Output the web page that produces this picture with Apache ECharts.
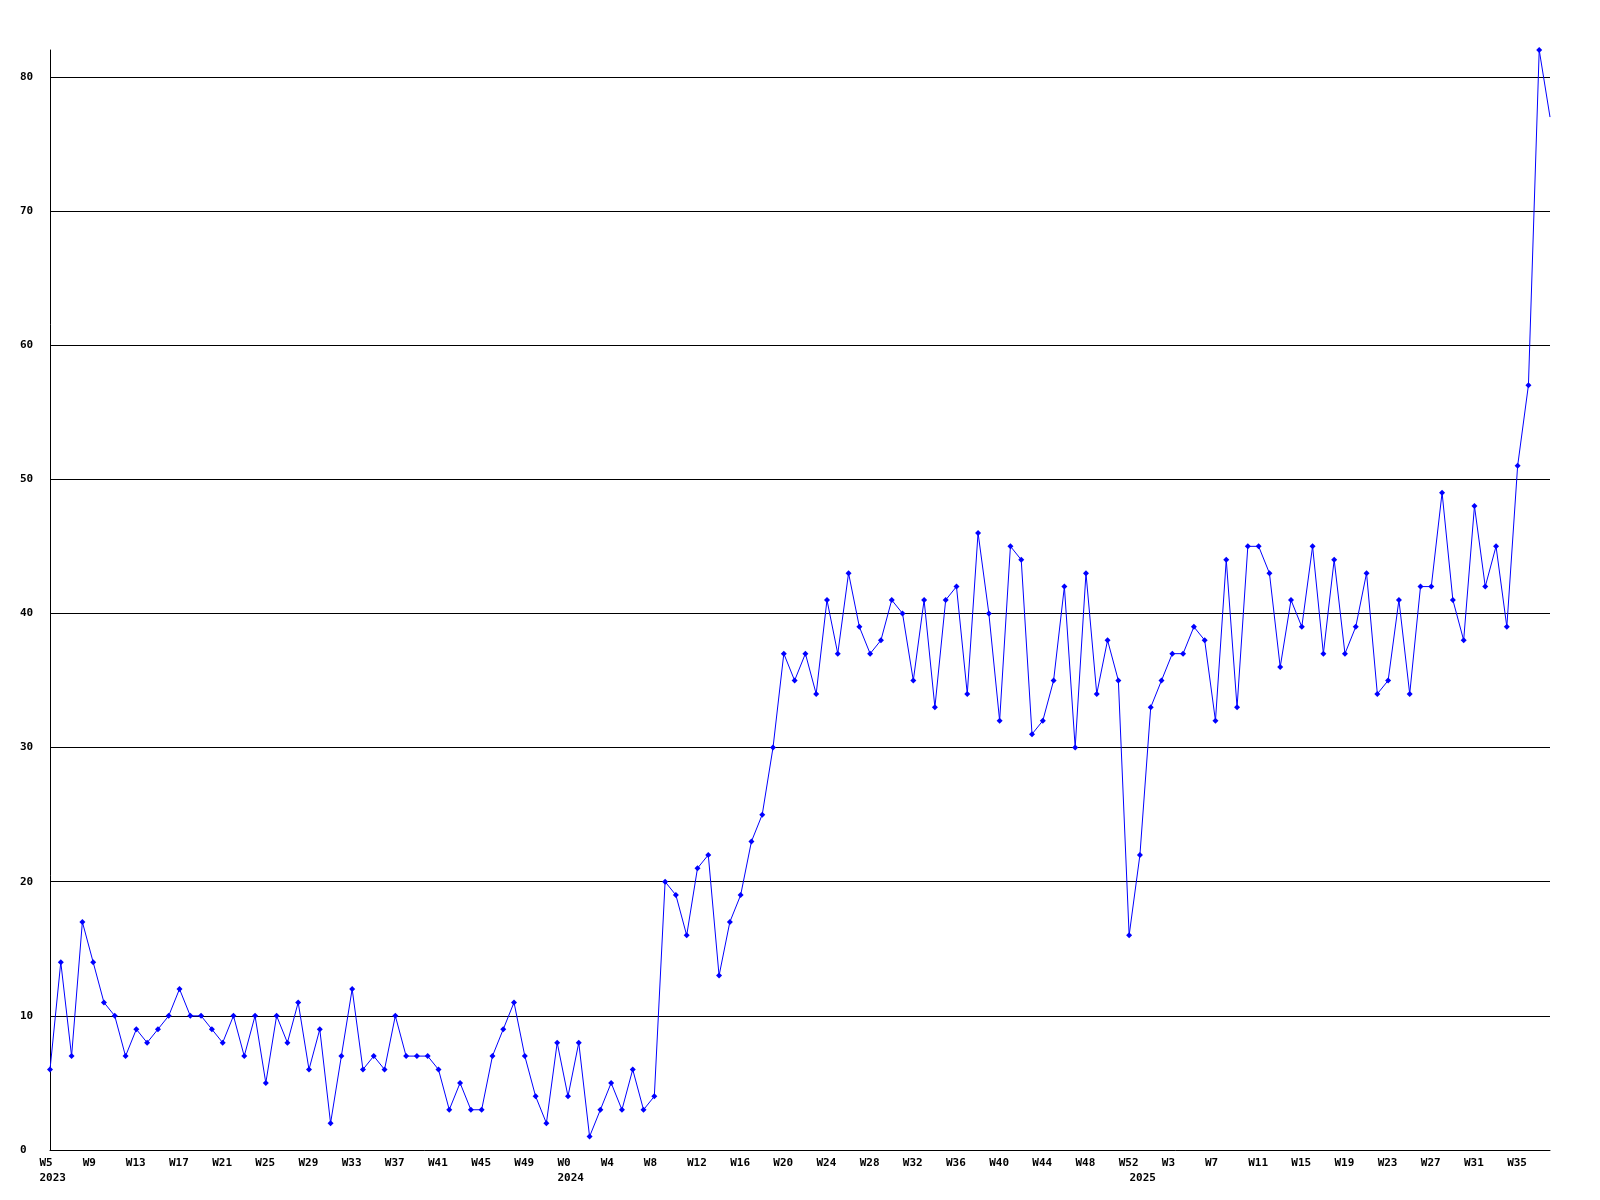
<!DOCTYPE html>
<html>
<head>
<meta charset="utf-8">
<script src="https://cdn.jsdelivr.net/npm/echarts@6/dist/echarts.min.js"></script>
<style>
  html, body { margin: 0; padding: 0; background: #ffffff; }
  #chart { width: 1600px; height: 1200px; }
</style>
</head>
<body>
<div id="chart"></div>
<script>
// Week spans shown on the x axis: [year, first week, last week]
const yearSpans = [
  [2023, 5, 52],
  [2024, 0, 52],
  [2025, 0, 38]
];

// Weekly values (one per week, from W5 2023)
const values2023 = [6, 14, 7, 17, 14, 11, 10, 7, 9, 8, 9, 10, 12, 10, 10, 9, 8, 10, 7, 10,
  5, 10, 8, 11, 6, 9, 2, 7, 12, 6, 7, 6, 10, 7, 7, 7, 6, 3, 5, 3,
  3, 7, 9, 11, 7, 4, 2, 8];
const values2024 = [4, 8, 1, 3, 5, 3, 6, 3, 4, 20, 19, 16, 21, 22, 13, 17, 19, 23, 25, 30,
  37, 35, 37, 34, 41, 37, 43, 39, 37, 38, 41, 40, 35, 41, 33, 41, 42, 34, 46, 40,
  32, 45, 44, 31, 32, 35, 42, 30, 43, 34, 38, 35, 16];
const values2025 = [22, 33, 35, 37, 37, 39, 38, 32, 44, 33, 45, 45, 43, 36, 41, 39, 45, 37, 44, 37,
  39, 43, 34, 35, 41, 34, 42, 42, 49, 41, 38, 48, 42, 45, 39, 51, 57, 82, 77];

// Y axis ticks
const yMin = 0;
const yMax = 82;
const yStep = 10;
// Week-label step on the x axis
const weekLabelStep = 4;

// ---- build categories ----
const categories = [];
const yearStartIndex = {};
yearSpans.forEach(([year, w0, w1]) => {
  yearStartIndex[categories.length] = year;
  for (let w = w0; w <= w1; w++) categories.push(year + '-W' + w);
});
const values = values2023.concat(values2024, values2025);
const seriesData = values.map((v, i) => i === values.length - 1 ? { value: v, symbol: 'none' } : v);

const FONT = '"DejaVu Sans Mono", "Liberation Mono", monospace';

const chart = echarts.init(document.getElementById('chart'), null, { renderer: 'canvas' });
chart.setOption({
  animation: false,
  backgroundColor: '#ffffff',
  grid: { left: 50, right: 50, top: 50, bottom: 50, containLabel: false, outerBoundsMode: 'none' },
  xAxis: {
    type: 'category',
    data: categories,
    boundaryGap: false,
    axisLine: { show: true, lineStyle: { color: '#000000', width: 1 } },
    axisTick: { show: false },
    splitLine: { show: false },
    axisLabel: {
      show: true,
      margin: 6,
      interval: (idx) => idx % weekLabelStep === 0 || yearStartIndex[idx] !== undefined,
      formatter: (val, idx) => {
        const week = val.split('-')[1];
        const wk = idx % weekLabelStep === 0 ? week : '';
        const yr = yearStartIndex[idx] !== undefined ? String(yearStartIndex[idx]) : '';
        return yr ? '{w|' + wk + '}\n{w|' + yr + '}' : '{w|' + wk + '}';
      },
      rich: {
        w: {
          width: 21, align: 'left', fontFamily: FONT, fontWeight: 'bold',
          fontSize: 11, color: '#000000', lineHeight: 15
        }
      },
      fontFamily: FONT, fontWeight: 'bold', fontSize: 11, color: '#000000'
    }
  },
  yAxis: {
    type: 'value',
    min: yMin,
    max: yMax,
    interval: yStep,
    axisLine: { show: true, lineStyle: { color: '#000000', width: 1 } },
    axisTick: { show: false },
    splitLine: { show: true, showMinLine: false, showMaxLine: false, lineStyle: { color: '#000000', width: 1 } },
    axisLabel: {
      showMaxLabel: false,
      align: 'left',
      margin: 30,
      fontFamily: FONT, fontWeight: 'bold', fontSize: 11, color: '#000000'
    }
  },
  series: [{
    type: 'line',
    data: seriesData,
    symbol: 'diamond',
    symbolSize: 6,
    showAllSymbol: true,
    lineStyle: { color: '#0000ff', width: 1 },
    itemStyle: { color: '#0000ff' },
    emphasis: { disabled: true }
  }]
});
</script>
</body>
</html>
